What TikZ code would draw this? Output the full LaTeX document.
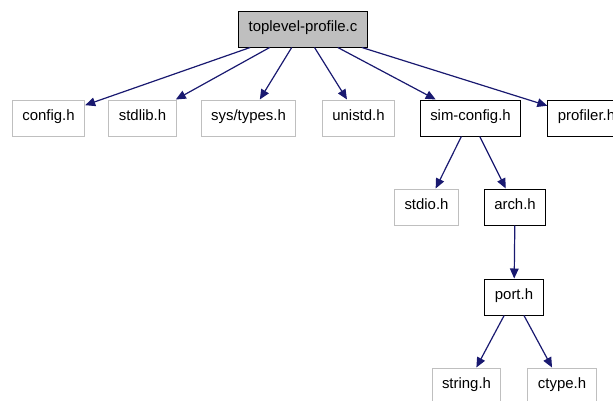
\documentclass[tikz,border=0pt]{standalone}
\usepackage{fontspec}
\setmainfont{Liberation Sans}
\usetikzlibrary{arrows.meta}

\begin{document}
\begin{tikzpicture}[
    x=0.75pt, y=-0.75pt,
    font=\fontsize{11.2}{13}\selectfont,
    box/.style={draw=black, line width=0.75pt, text height=15.2pt, text depth=11.8pt, inner xsep=7.5pt, inner ysep=0pt},
    ext/.style={box, draw=black!25},
    arr/.style={-{Triangle[length=7.5pt,width=6.5pt]}, line width=0.9pt, draw=edgeblue}
  ]
  \definecolor{edgeblue}{HTML}{191970}
  \useasboundingbox (0,0) rectangle (613,400);
  % root file
  \node[box, fill=black!25] (top) at (303,29) {toplevel-profile.c};
  % first level
  \node[ext] (config) at (48.5,118) {config.h};
  \node[ext] (stdlib) at (142.5,118) {stdlib.h};
  \node[ext] (systypes) at (248.5,118) {sys/types.h};
  \node[ext] (unistd) at (358.5,118) {unistd.h};
  \node[box] (simconfig) at (470.5,118) {sim-config.h};
  \node[box] (profiler) at (586.5,118) {profiler.h};
  % second level
  \node[ext] (stdio) at (426.5,207) {stdio.h};
  \node[box] (arch) at (515,207) {arch.h};
  \node[box] (port) at (514,297) {port.h};
  \node[ext] (string) at (466.5,386) {string.h};
  \node[ext] (ctype) at (562,386) {ctype.h};
  \draw[arr] (top) -- (config);
  \draw[arr] (top) -- (stdlib);
  \draw[arr] (top) -- (systypes);
  \draw[arr] (top) -- (unistd);
  \draw[arr] (top) -- (simconfig);
  \draw[arr] (top) -- (profiler);
  \draw[arr] (simconfig) -- (stdio);
  \draw[arr] (simconfig) -- (arch);
  \draw[arr] (arch) -- (port);
  \draw[arr] (port) -- (string);
  \draw[arr] (port) -- (ctype);
\end{tikzpicture}
\end{document}
